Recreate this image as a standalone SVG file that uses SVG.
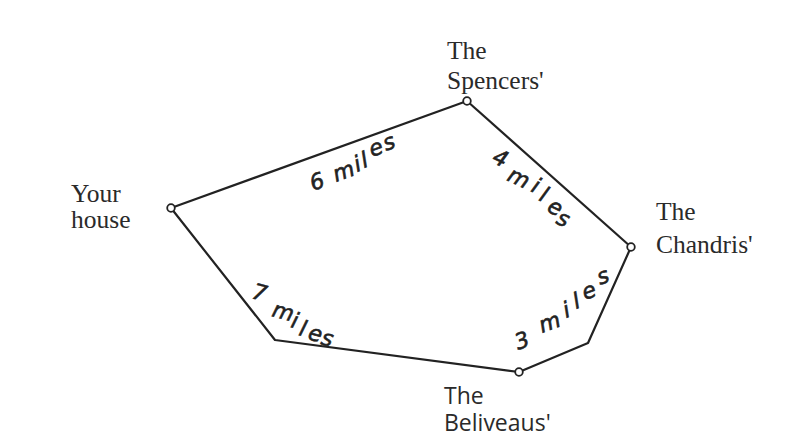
<svg xmlns="http://www.w3.org/2000/svg" width="800" height="437" viewBox="0 0 800 437">
<style>
.lbl{font-family:"Liberation Serif","Times New Roman",serif;font-size:25.5px;fill:#2a2a2a}
.lbs{font-family:"Open Sans","Noto Sans",sans-serif;font-size:23px;fill:#2a2a2a}
.mi{font-family:"DejaVu Sans",Verdana,sans-serif;font-style:italic;font-size:22px;fill:#222;stroke:#222;stroke-width:0.6}
.edge{fill:none;stroke:#222;stroke-width:2.2;stroke-linejoin:round}
.node{fill:#fff;stroke:#222;stroke-width:1.8}
</style>
<rect width="800" height="437" fill="#fff"/>
<g id="connectors">
<path class="edge" d="M171,208 L467,101"/>
<path class="edge" d="M467,101 L631,247"/>
<path class="edge" d="M631,247 L588,343 L519,372"/>
<path class="edge" d="M171,208 L275,340 L519,372"/>
<text class="mi" x="313 336 357 364 372 386" y="191 182 172 168 157 151" rotate="-20 -20 -20 -20 -20 -20">6miles</text>
<text class="mi" x="491 506 530 538 546 555" y="162 180 191 200 211 223" rotate="25 25 25 25 25 25">4miles</text>
<text class="mi" x="518 542 566 576 585 600" y="350 333 318 309 300 285" rotate="-20 -20 -20 -20 -20 -20">3miles</text>
<text class="mi" x="251 271 290 298 307 320" y="298 316 327 335 339 344" rotate="15 15 15 15 15 15">7miles</text>
</g>
<g id="your-house">
<circle class="node" cx="171" cy="208" r="3.8"/>
<text class="lbl" x="71" y="202">Your</text>
<text class="lbl" x="71" y="228">house</text>
</g>
<g id="spencers">
<circle class="node" cx="467" cy="101" r="3.8"/>
<text class="lbl" x="447" y="59">The</text>
<text class="lbl" x="447" y="89">Spencers'</text>
</g>
<g id="chandris">
<circle class="node" cx="631" cy="247" r="3.8"/>
<text class="lbl" x="656" y="220">The</text>
<text class="lbl" x="656" y="253">Chandris'</text>
</g>
<g id="beliveaus">
<circle class="node" cx="519" cy="372" r="3.8"/>
<text class="lbs" x="444" y="404">The</text>
<text class="lbs" x="444" y="431">Beliveaus'</text>
</g>
</svg>
